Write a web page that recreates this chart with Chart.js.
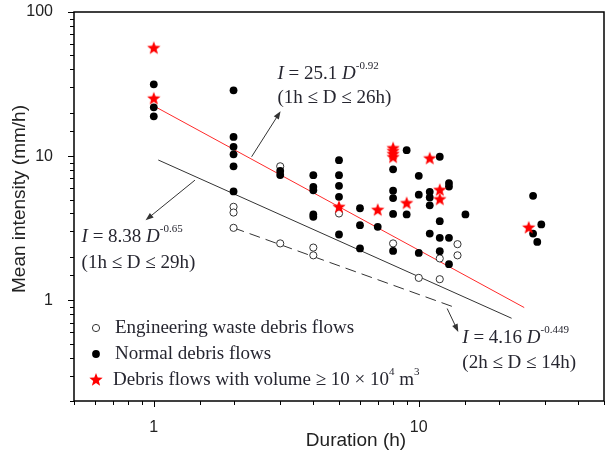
<!DOCTYPE html>
<html>
<head>
<meta charset="utf-8">
<script src="https://cdn.jsdelivr.net/npm/chart.js@4.4.1/dist/chart.umd.min.js"></script>
<style>
  html, body { margin: 0; padding: 0; background: #fff; }
</style>
</head>
<body>
<canvas id="chart" width="612" height="456"></canvas>
<script>
/* ── Datos ── */
const engDur  = [2, 2, 2, 3, 3, 4, 4, 5, 8, 10, 12, 12, 14, 14];
const engInt  = [4.45, 4.06, 3.18, 8.5, 2.48, 2.32, 2.05, 4.0, 2.48, 1.43, 1.95, 1.40, 2.45, 2.05];

const normDur = [1, 1, 1,
                 2, 2, 2, 2, 2, 2,
                 3, 3,
                 4, 4, 4, 4, 4,
                 5, 5, 5, 5, 5,
                 6, 6, 6,
                 7,
                 8, 8, 8, 8, 8,
                 9, 9,
                 10, 10, 10,
                 11, 11, 11, 11,
                 12, 12, 12, 12,
                 13, 13, 13, 13,
                 15,
                 27, 27, 28, 29];
const normInt = [31.5, 21.8, 18.9,
                 28.6, 13.6, 11.6, 10.3, 8.5, 5.69,
                 7.9, 7.4,
                 7.38, 6.12, 5.8, 3.94, 3.79,
                 9.38, 7.38, 6.22, 5.22, 2.86,
                 4.35, 3.32, 2.29,
                 3.23,
                 8.1, 5.76, 5.12, 3.97, 2.2,
                 11.0, 3.94,
                 7.3, 5.4, 2.13,
                 5.65, 5.17, 4.56, 2.9,
                 9.9, 3.54, 2.71, 2.19,
                 6.5, 6.15, 2.71, 1.78,
                 3.94,
                 5.3, 2.9, 2.54, 3.36];

const bigDur  = [1, 1, 5, 7, 8, 8, 8, 8, 9, 11, 12, 12, 26];
const bigInt  = [56, 25, 4.42, 4.22, 11.3, 10.8, 10.3, 9.8, 4.7, 9.6, 5.8, 5.0, 3.18];

// Líneas de ajuste (extremos)
const redDur   = [1, 25];
const redInt   = [22.3, 0.89];
const blackDur = [1.04, 22.4];
const blackInt = [9.4, 0.75];
const dashDur  = [2, 13.5];
const dashInt  = [3.18, 0.9];

const xTickLabels = [1, 10];
const yTickLabels = [1, 10, 100];

const SERIF = '"Liberation Serif", "Times New Roman", serif';
const SANS  = '"Liberation Sans", Arial, sans-serif';
const TXT   = '#262630';
const FS    = 19;

const pts = (xs, ys) => xs.map((x, i) => ({ x, y: ys[i] }));

/* ── Estrella roja como imagen ── */
function makeStar(r) {
  const c = document.createElement('canvas');
  const s = Math.ceil(r * 2 + 2);
  c.width = s; c.height = s;
  const g = c.getContext('2d');
  g.beginPath();
  for (let i = 0; i < 10; i++) {
    const rad = i % 2 === 0 ? r : r * 0.42;
    const a = -Math.PI / 2 + i * Math.PI / 5;
    const px = s / 2 + rad * Math.cos(a), py = s / 2 + rad * Math.sin(a);
    i === 0 ? g.moveTo(px, py) : g.lineTo(px, py);
  }
  g.closePath();
  g.fillStyle = '#ff0000';
  g.fill();
  return c;
}
const starImg = makeStar(7);

/* ── Texto con cursivas y superíndices ── */
function richText(ctx, x, y, parts, size) {
  let cx = x;
  ctx.textBaseline = 'middle';
  ctx.textAlign = 'left';
  parts.forEach(p => {
    const fs = p.sup ? Math.round(size * 0.6) : size;
    ctx.font = (p.it ? 'italic ' : '') + fs + 'px ' + SERIF;
    ctx.fillText(p.t, cx, y + (p.sup ? -size * 0.42 : 0));
    cx += ctx.measureText(p.t).width;
  });
}

function arrow(ctx, x1, y1, x2, y2) {
  const a = Math.atan2(y2 - y1, x2 - x1);
  ctx.beginPath();
  ctx.moveTo(x1, y1);
  ctx.lineTo(x2 - 5 * Math.cos(a), y2 - 5 * Math.sin(a));
  ctx.stroke();
  ctx.beginPath();
  ctx.moveTo(x2, y2);
  ctx.lineTo(x2 - 8 * Math.cos(a) + 3 * Math.sin(a), y2 - 8 * Math.sin(a) - 3 * Math.cos(a));
  ctx.lineTo(x2 - 8 * Math.cos(a) - 3 * Math.sin(a), y2 - 8 * Math.sin(a) + 3 * Math.cos(a));
  ctx.closePath();
  ctx.fill();
}

// Anotaciones en coordenadas de datos
const notes = [
  { from: [2.34, 9.9], to: [3.01, 20.5], at: [2.93, 37.1, 25.3],
    eq: [{ t: 'I', it: true }, { t: ' = 25.1 ' }, { t: 'D', it: true }, { t: '-0.92', sup: true }],
    range: '(1h ≤ D ≤ 26h)' },
  { from: [1.43, 6.81], to: [0.931, 3.59], at: [0.534, 2.74, 1.81],
    eq: [{ t: 'I', it: true }, { t: ' = 8.38 ' }, { t: 'D', it: true }, { t: '-0.65', sup: true }],
    range: '(1h ≤ D ≤ 29h)' },
  { from: [12.8, 0.876], to: [14.1, 0.602], at: [14.6, 0.545, 0.365],
    eq: [{ t: 'I', it: true }, { t: ' = 4.16 ' }, { t: 'D', it: true }, { t: '-0.449', sup: true }],
    range: '(2h ≤ D ≤ 14h)' },
];

const decor = {
  id: 'decor',
  afterDraw(chart) {
    const { ctx, chartArea: a, scales: { x, y } } = chart;
    ctx.save();

    // marco
    ctx.strokeStyle = '#000';
    ctx.lineWidth = 1.5;
    ctx.strokeRect(a.left, a.top, a.right - a.left, a.bottom - a.top);

    // marcas de ejes
    ctx.lineWidth = 1;
    const isMajor = v => Math.abs(Math.log10(v) - Math.round(Math.log10(v))) < 1e-6;
    x.ticks.forEach(t => {
      const px = Math.round(x.getPixelForValue(t.value)) + 0.5;
      ctx.beginPath();
      ctx.moveTo(px, a.bottom);
      ctx.lineTo(px, a.bottom + (isMajor(t.value) ? 6 : 4));
      ctx.stroke();
    });
    y.ticks.forEach(t => {
      const py = Math.round(y.getPixelForValue(t.value)) + 0.5;
      ctx.beginPath();
      ctx.moveTo(a.left, py);
      ctx.lineTo(a.left - (isMajor(t.value) ? 6 : 4), py);
      ctx.stroke();
    });

    // títulos de ejes
    ctx.fillStyle = '#222';
    ctx.font = '19px ' + SANS;
    ctx.textAlign = 'center';
    ctx.textBaseline = 'middle';
    ctx.fillText('Duration (h)', 356, 441);
    ctx.save();
    ctx.translate(20, 199);
    ctx.rotate(-Math.PI / 2);
    ctx.fillText('Mean intensity (mm/h)', 0, 0);
    ctx.restore();

    // flechas y ecuaciones
    ctx.strokeStyle = '#333';
    ctx.fillStyle = '#333';
    notes.forEach(n => {
      arrow(ctx, x.getPixelForValue(n.from[0]), y.getPixelForValue(n.from[1]),
                 x.getPixelForValue(n.to[0]),   y.getPixelForValue(n.to[1]));
    });
    ctx.fillStyle = TXT;
    notes.forEach(n => {
      const tx = x.getPixelForValue(n.at[0]);
      richText(ctx, tx, y.getPixelForValue(n.at[1]), n.eq, FS);
      richText(ctx, tx, y.getPixelForValue(n.at[2]), [{ t: n.range }], FS);
    });

    // leyenda
    const lx = 96;
    ctx.lineWidth = 1;
    ctx.strokeStyle = '#333';
    ctx.fillStyle = '#fff';
    ctx.beginPath(); ctx.arc(lx, 328, 3.6, 0, Math.PI * 2); ctx.fill(); ctx.stroke();
    ctx.fillStyle = '#000';
    ctx.beginPath(); ctx.arc(lx, 354, 3.9, 0, Math.PI * 2); ctx.fill();
    ctx.drawImage(starImg, lx - starImg.width / 2, 380 - starImg.height / 2);
    ctx.fillStyle = TXT;
    richText(ctx, 115, 328, [{ t: 'Engineering waste debris flows' }], FS);
    richText(ctx, 115, 354, [{ t: 'Normal debris flows' }], FS);
    richText(ctx, 113, 380, [{ t: 'Debris flows with volume ≥ 10 × 10' }, { t: '4', sup: true },
                             { t: ' m' }, { t: '3', sup: true }], FS);
    ctx.restore();
  }
};

new Chart(document.getElementById('chart'), {
  type: 'scatter',
  data: {
    datasets: [
      { label: 'big', data: pts(bigDur, bigInt), pointStyle: starImg, pointRadius: 7, order: 0 },
      { label: 'normal', data: pts(normDur, normInt), pointRadius: 3.9,
        backgroundColor: '#000', borderColor: '#000', borderWidth: 0, order: 1 },
      { label: 'eng', data: pts(engDur, engInt), pointRadius: 3.6,
        backgroundColor: '#fff', borderColor: '#333', borderWidth: 1, order: 2 },
      { label: 'red', data: pts(redDur, redInt), showLine: true, pointRadius: 0,
        borderColor: '#ff2a2a', borderWidth: 1, order: 3 },
      { label: 'black', data: pts(blackDur, blackInt), showLine: true, pointRadius: 0,
        borderColor: '#333', borderWidth: 1, order: 3 },
      { label: 'dash', data: pts(dashDur, dashInt), showLine: true, pointRadius: 0,
        borderColor: '#333', borderWidth: 1, borderDash: [11, 6], order: 3 },
    ],
  },
  options: {
    responsive: false,
    animation: false,
    devicePixelRatio: 1,
    layout: { padding: { left: 0, right: 2, top: 12, bottom: 0 } },
    plugins: { legend: { display: false }, tooltip: { enabled: false } },
    scales: {
      x: {
        type: 'logarithmic', min: 0.5, max: 50,
        afterFit: s => { s.height = 55; s.paddingLeft = 0; s.paddingRight = 0; },
        grid: { display: false }, border: { display: false },
        ticks: {
          autoSkip: false, maxRotation: 0, padding: 9, color: '#222',
          font: { family: SANS, size: 16 },
          callback: v => xTickLabels.includes(v) ? String(v) : '',
        },
      },
      y: {
        type: 'logarithmic', min: 0.2, max: 100,
        afterFit: s => { s.width = 74; s.paddingTop = 0; s.paddingBottom = 0; },
        grid: { display: false }, border: { display: false },
        ticks: {
          autoSkip: false, padding: 13, color: '#222',
          font: { family: SANS, size: 16 },
          callback: v => yTickLabels.includes(v) ? String(v) : '',
        },
      },
    },
  },
  plugins: [decor],
});
</script>
</body>
</html>
